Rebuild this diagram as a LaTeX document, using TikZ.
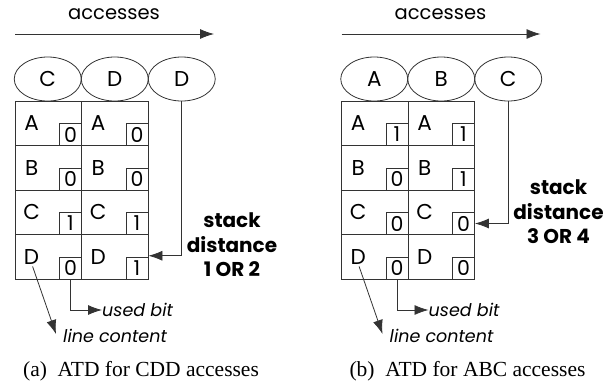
\documentclass[tikz,border=0pt]{standalone}
\usepackage{fontspec}
\setmainfont{Liberation Serif}
\newfontfamily\geo{Poppins}
\usetikzlibrary{shapes.geometric,arrows.meta,calc}
\tikzset{
  ln/.style={draw=black!80, line width=0.8pt},
  arr/.style={ln, -{Latex[length=14pt,width=10pt]}},
  acc/.style={ellipse, ln, minimum width=67pt, minimum height=44pt, inner sep=0pt, font=\geo\fontsize{21.5}{24}\selectfont},
  cell/.style={rectangle, ln, minimum width=66.5pt, minimum height=44.5pt, inner sep=0pt},
  lett/.style={inner sep=0pt, font=\geo\fontsize{21.5}{24}\selectfont},
  bitbox/.style={rectangle, ln, minimum width=22pt, minimum height=22pt, inner sep=0pt, anchor=south east, font=\geo\fontsize{20.5}{22}\selectfont},
  lbl/.style={inner sep=0pt, font=\geo\fontsize{19.5}{22}\selectfont},
  note/.style={inner sep=0pt, anchor=west, font=\geo\itshape\fontsize{17.5}{20}\selectfont},
  sd/.style={inner sep=0pt, align=center, font=\geo\bfseries\fontsize{20}{24.5}\selectfont},
  captext/.style={inner sep=0pt, font=\fontsize{21.5}{24}\selectfont}
}
\begin{document}
\begin{tikzpicture}[x=1pt,y=-1pt]
\useasboundingbox (0,0) rectangle (615,383);
% ---------- panel (a) ----------
\node[lbl] (a-acc) at (114,14) {accesses};
\coordinate (a-as) at (15,34);
\coordinate (a-ae) at (214,34);
\draw[arr] (a-as) -- (a-ae);
\node[acc] (a-e1) at (47.75,79) {C};
\node[acc] (a-e2) at (114.75,79) {D};
\node[acc] (a-e3) at (181.75,79) {D};
\foreach \c/\cx in {1/48.25,2/114.75}{
  \foreach \r/\ry/\L in {1/123.25/A,2/167.75/B,3/212.25/C,4/256.75/D}{
    \node[cell] (a-c\c-r\r) at (\cx,\ry) {};
    \node[lett] (a-l\c-r\r) at ($(a-c\c-r\r.west)+(17,0)$) {\L};
  }
}
\node[bitbox] (a-b1-r1) at (a-c1-r1.south east) {0};
\node[bitbox] (a-b1-r2) at (a-c1-r2.south east) {0};
\node[bitbox] (a-b1-r3) at (a-c1-r3.south east) {1};
\node[bitbox] (a-b1-r4) at (a-c1-r4.south east) {0};
\node[bitbox] (a-b2-r1) at (a-c2-r1.south east) {0};
\node[bitbox] (a-b2-r2) at (a-c2-r2.south east) {0};
\node[bitbox] (a-b2-r3) at (a-c2-r3.south east) {1};
\node[bitbox] (a-b2-r4) at (a-c2-r4.south east) {1};
\coordinate (a-t) at ($(a-c2-r4.east)+(0,-1)$);
\draw[arr] (a-e3.south) |- (a-t);
\node[sd] (a-sd) at (232,245) {stack\\distance\\1 OR 2};
\node[note] (a-ub) at (102,310) {used bit};
\draw[arr] (a-b1-r4.south) |- (a-ub.west);
\node[note] (a-lc) at (63,336) {line content};
\coordinate (a-lt) at (56,334);
\draw[arr] ($(a-l1-r4.south)+(1,2)$) -- (a-lt);
\node[captext] (a-cap) at (141,371) {(a)\ \ ATD for CDD accesses};
% ---------- panel (b) ----------
\begin{scope}[xshift=326.5pt]
\node[lbl] (b-acc) at (114,14) {accesses};
\coordinate (b-as) at (15,34);
\coordinate (b-ae) at (214,34);
\draw[arr] (b-as) -- (b-ae);
\node[acc] (b-e1) at (47.75,79) {A};
\node[acc] (b-e2) at (114.75,79) {B};
\node[acc] (b-e3) at (181.75,79) {C};
\foreach \c/\cx in {1/48.25,2/114.75}{
  \foreach \r/\ry/\L in {1/123.25/A,2/167.75/B,3/212.25/C,4/256.75/D}{
    \node[cell] (b-c\c-r\r) at (\cx,\ry) {};
    \node[lett] (b-l\c-r\r) at ($(b-c\c-r\r.west)+(17,0)$) {\L};
  }
}
\node[bitbox] (b-b1-r1) at (b-c1-r1.south east) {1};
\node[bitbox] (b-b1-r2) at (b-c1-r2.south east) {0};
\node[bitbox] (b-b1-r3) at (b-c1-r3.south east) {0};
\node[bitbox] (b-b1-r4) at (b-c1-r4.south east) {0};
\node[bitbox] (b-b2-r1) at (b-c2-r1.south east) {1};
\node[bitbox] (b-b2-r2) at (b-c2-r2.south east) {1};
\node[bitbox] (b-b2-r3) at (b-c2-r3.south east) {0};
\node[bitbox] (b-b2-r4) at (b-c2-r4.south east) {0};
\draw[arr] (b-e3.south) |- (b-b2-r3.east);
\node[sd] (b-sd) at (232,212) {stack\\distance\\3 OR 4};
\node[note] (b-ub) at (102,310) {used bit};
\draw[arr] (b-b1-r4.south) |- (b-ub.west);
\node[note] (b-lc) at (63,336) {line content};
\coordinate (b-lt) at (56,334);
\draw[arr] ($(b-l1-r4.south)+(1,2)$) -- (b-lt);
\node[captext] (b-cap) at (141,371) {(b)\ \ ATD for ABC accesses};
\end{scope}
\end{tikzpicture}
\end{document}
